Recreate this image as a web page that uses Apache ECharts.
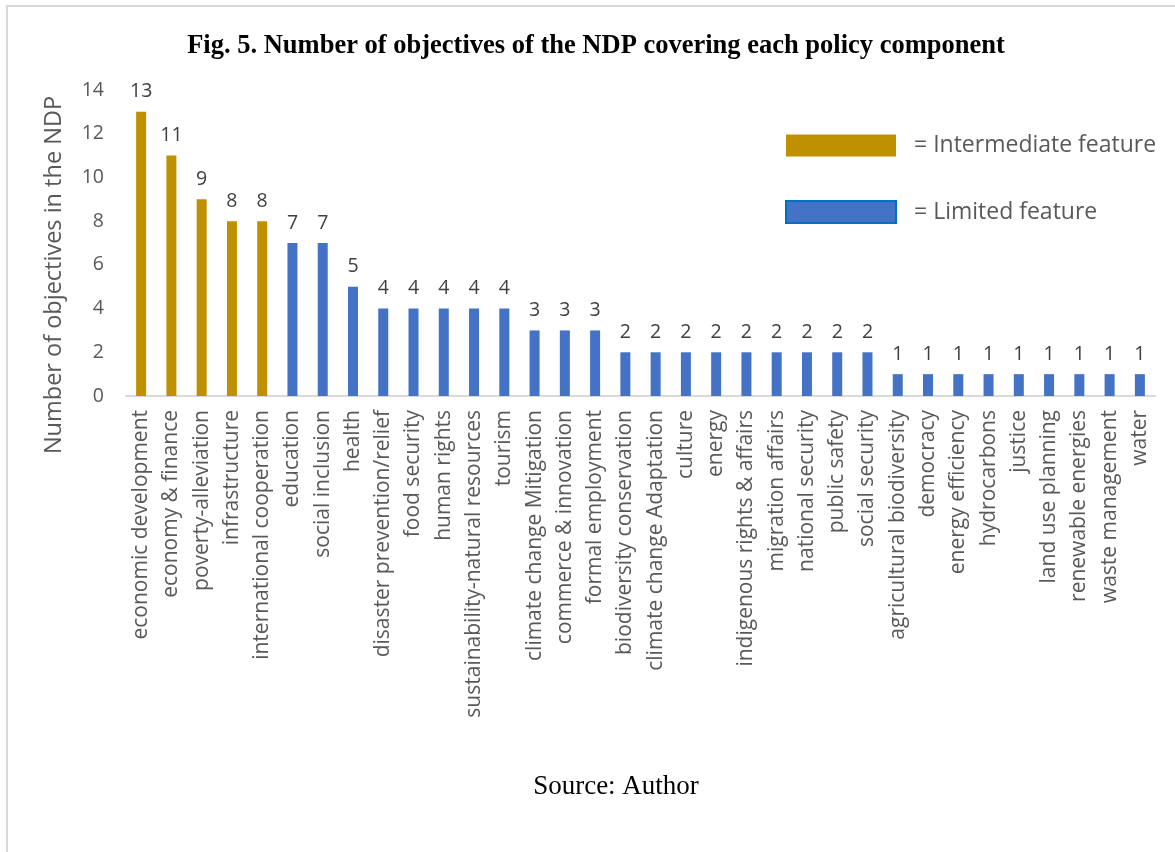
<!DOCTYPE html>
<html>
<head>
<meta charset="utf-8">
<script src="https://cdn.jsdelivr.net/npm/echarts@6/dist/echarts.min.js"></script>
<style>
  html, body { margin: 0; padding: 0; background: #fff; }
  #chart { width: 1175px; height: 852px; }
</style>
</head>
<body>
<div id="chart"></div>
<script>
const categories = [
  "economic development", "economy & finance", "poverty-alleviation", "infrastructure",
  "international cooperation", "education", "social inclusion", "health",
  "disaster prevention/relief", "food security", "human rights",
  "sustainability-natural resources", "tourism", "climate change Mitigation",
  "commerce & innovation", "formal employment", "biodiversity conservation",
  "climate change Adaptation", "culture", "energy", "indigenous rights & affairs",
  "migration affairs", "national security", "public safety", "social security",
  "agricultural biodiversity", "democracy", "energy efficiency", "hydrocarbons",
  "justice", "land use planning", "renewable energies", "waste management", "water"
];
const objectives = [13, 11, 9, 8, 8, 7, 7, 5, 4, 4, 4, 4, 4, 3, 3, 3,
  2, 2, 2, 2, 2, 2, 2, 2, 2, 1, 1, 1, 1, 1, 1, 1, 1, 1];
// first five components are "intermediate", the rest "limited"
const intermediateCount = 5;
const yTicks = { min: 0, max: 14, interval: 2 };

const intermediateData = objectives.map((v, i) => (i < intermediateCount ? v : "-"));
const limitedData = objectives.map((v, i) => (i >= intermediateCount ? v : "-"));

const gray = "#595959";
const font = "'Open Sans', sans-serif";

const chart = echarts.init(document.getElementById("chart"));

const barLabel = {
  show: true,
  position: "top",
  distance: 10,
  color: "#404040",
  fontSize: 19.5,
  fontFamily: font
};

chart.setOption({
  animation: false,
  title: [
    {
      text: "Fig. 5. Number of objectives of the NDP covering each policy component",
      left: 591,
      top: 28,
      textAlign: "center",
      textStyle: { fontFamily: "'Liberation Serif', serif", fontWeight: "bold", fontSize: 26.5, color: "#000" }
    },
    {
      text: "Source: Author",
      left: 611,
      top: 768,
      textAlign: "center",
      textStyle: { fontFamily: "'Liberation Serif', serif", fontWeight: "normal", fontSize: 27, color: "#000" }
    }
  ],
  graphic: [
    {
      type: "rect",
      shape: { x: 7, y: 6, width: 1300, height: 1000 },
      style: { fill: "none", stroke: "#d9d9d9", lineWidth: 2 }
    }
  ],
  legend: {
    orient: "vertical",
    left: 785,
    top: 134,
    padding: 0,
    itemWidth: 110,
    itemHeight: 22,
    itemGap: 43,
    icon: "rect",
    formatter: (name) => "= " + name,
    textStyle: { fontSize: 23, color: gray, fontFamily: font, padding: [0, 0, 0, 13] },
    data: [
      { name: "Intermediate feature" },
      { name: "Limited feature", itemStyle: { borderColor: "#0070C0", borderWidth: 2 } }
    ]
  },
  grid: { left: 126, right: 20, top: 90, bottom: 456, containLabel: false },
  xAxis: {
    type: "category",
    data: categories,
    axisLine: { lineStyle: { color: "#d9d9d9", width: 2 } },
    axisTick: { show: false },
    axisLabel: {
      interval: 0,
      rotate: 90,
      margin: 14,
      color: gray,
      fontSize: 21,
      fontFamily: font
    }
  },
  yAxis: {
    type: "value",
    min: yTicks.min,
    max: yTicks.max,
    interval: yTicks.interval,
    name: "Number of objectives in the NDP",
    nameLocation: "middle",
    nameGap: 60,
    nameTextStyle: { fontSize: 23.5, color: gray, fontFamily: font, padding: [0, 64, 0, 0] },
    splitLine: { show: false },
    axisLine: { show: false },
    axisTick: { show: false },
    axisLabel: { color: gray, fontSize: 19.5, fontFamily: font, margin: 22 }
  },
  series: [
    {
      name: "Intermediate feature",
      type: "bar",
      stack: "all",
      barWidth: 10,
      itemStyle: { color: "#BF9000" },
      label: barLabel,
      data: intermediateData
    },
    {
      name: "Limited feature",
      type: "bar",
      stack: "all",
      barWidth: 10,
      itemStyle: { color: "#4472C4" },
      label: barLabel,
      data: limitedData
    }
  ]
});
</script>
</body>
</html>
